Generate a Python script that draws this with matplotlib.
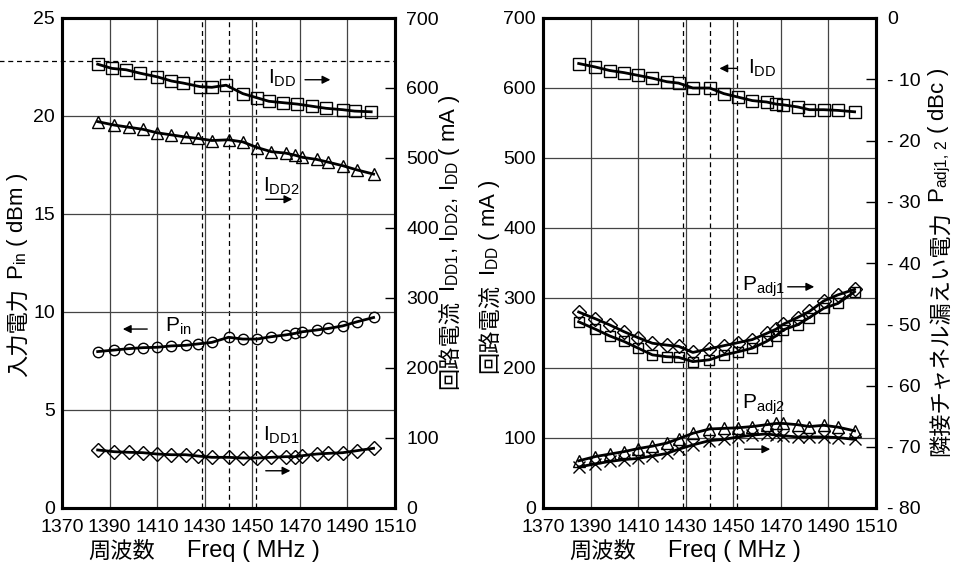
import matplotlib
matplotlib.use("Agg")
import matplotlib.pyplot as plt

plt.rcParams["font.family"] = ["Liberation Sans", "Noto Sans CJK JP"]
plt.rcParams["mathtext.fontset"] = "custom"
plt.rcParams["mathtext.rm"] = "Liberation Sans"
plt.rcParams["mathtext.it"] = "Liberation Sans"
plt.rcParams["font.size"] = 14

# ---------------- data ----------------
freq = [1385, 1392, 1398, 1404, 1410, 1416, 1422, 1427, 1433, 1440, 1446,
        1452, 1458, 1464, 1468, 1471, 1477, 1482, 1488, 1494, 1501]
freq_idd_left = [1385, 1391, 1397, 1403, 1410, 1416, 1421, 1428, 1433, 1439,
                 1446, 1452, 1457, 1463, 1469, 1475, 1481, 1488, 1493, 1500]

# left panel
idd_left = [634, 628, 626, 621, 616, 610, 607, 602, 601, 604,
            592, 586, 581, 579, 577, 574, 571, 569, 567, 566]          # mA
idd2 = [552, 547, 544, 541, 536, 533, 530, 528, 525, 526, 523,
        515, 509, 507, 504, 501, 498, 494, 489, 483, 477]               # mA
pin = [7.98, 8.06, 8.13, 8.18, 8.20, 8.27, 8.30, 8.37, 8.45, 8.71, 8.62,
       8.62, 8.74, 8.83, 8.91, 8.99, 9.08, 9.16, 9.29, 9.50, 9.72]      # dBm
idd1 = [82.9, 80.4, 79.6, 79.0, 77.1, 76.1, 76.1, 74.3, 72.4, 72.4, 71.4,
        71.4, 72.4, 73.3, 73.3, 74.7, 77.1, 78.1, 79.0, 81.9, 85.3]     # mA

# right panel
idd_right = [635, 630, 625, 622, 618, 614, 609, 607, 600, 600, 592,
             587, 582, 580, 577, 576, 573, 569, 569, 568, 566]          # mA
padj1_a = [-48.0, -49.1, -50.1, -51.2, -52.2, -53.1, -53.4, -53.6, -54.6, -54.0, -53.5,
           -53.0, -52.5, -51.5, -50.8, -50.0, -48.9, -47.9, -46.2, -45.2, -44.3]
padj1_b = [-49.6, -50.8, -51.9, -52.8, -53.9, -55.0, -55.3, -55.4, -56.1, -55.8, -55.0,
           -54.5, -53.9, -52.8, -51.9, -50.9, -50.1, -48.9, -47.4, -46.6, -44.7]
padj2_a = [-72.3, -71.6, -71.2, -70.8, -70.3, -69.9, -69.4, -68.7, -67.8, -67.1, -67.0,
           -66.9, -66.7, -66.4, -66.2, -66.2, -66.4, -66.7, -66.5, -66.8, -67.4]
padj2_b = [-73.3, -72.8, -72.4, -72.1, -71.9, -71.5, -71.1, -70.4, -69.7, -69.0, -68.8,
           -68.4, -68.1, -67.9, -68.1, -68.2, -68.4, -68.4, -68.4, -68.5, -68.8]

band_edges = [1429, 1440, 1451.5]
x_ticks = [1370, 1390, 1410, 1430, 1450, 1470, 1490, 1510]
dbc_ticks = [0, -10, -20, -30, -40, -50, -60, -70, -80]
dbc_labels = ["0"] + [f"- {abs(t)}" for t in dbc_ticks[1:]]

W, H = 958, 569
CJK = "Noto Sans CJK JP"
CJK_SIZE = 16
LAT_SIZE = 16

# ---------------- figure ----------------
fig = plt.figure(figsize=(W / 100, H / 100), dpi=100)
ax1 = fig.add_axes([62 / W, 61 / H, 333 / W, 490 / H])
ax2 = fig.add_axes([543 / W, 61 / H, 333 / W, 490 / H])
ax1r = ax1.twinx()
ax2r = ax2.twinx()

line_kw = dict(color="black", lw=2.0, markerfacecolor="none",
               markeredgecolor="black", markeredgewidth=1.0)
grid_kw = dict(color="#444444", lw=0.9)


def frame(ax, axr):
    ax.set_xlim(1370, 1510)
    ax.set_xticks(x_ticks)
    for x in x_ticks[1:-1]:
        ax.axvline(x, zorder=0, **grid_kw)
    for x in band_edges:
        ax.axvline(x, color="black", lw=0.9, ls=(0, (4, 3)), zorder=0)
    for side in ("left", "right", "top", "bottom"):
        ax.spines[side].set_linewidth(2.2)
        axr.spines[side].set_linewidth(2.2)
    ax.tick_params(axis="x", length=0, pad=8)
    ax.tick_params(axis="y", length=0, pad=5)
    axr.tick_params(axis="y", direction="in", length=7, width=1, pad=8)


def hlabel(x_split, y, cjk, latin, gap=32):
    """Horizontal axis title: Japanese part left of x_split, Latin part right."""
    fig.text((x_split - gap / 2) / W, 1 - y / H, cjk, ha="right", va="center",
             fontsize=CJK_SIZE, family=CJK)
    fig.text((x_split + gap / 2) / W, 1 - y / H, latin, ha="left", va="center",
             fontsize=LAT_SIZE + 1)


def vlabel(x, y_split, cjk, latin, gap=8):
    """Vertical axis title read bottom-to-top: Japanese below y_split, Latin above."""
    fig.text(x / W, 1 - (y_split + gap / 2) / H, cjk, rotation=90,
             rotation_mode="anchor", ha="right", va="center",
             fontsize=CJK_SIZE, family=CJK)
    fig.text(x / W, 1 - (y_split - gap / 2) / H, latin, rotation=90,
             rotation_mode="anchor", ha="left", va="center", fontsize=LAT_SIZE)


# ---- left panel ----
frame(ax1, ax1r)
ax1.set_ylim(0, 25)
ax1.set_yticks([0, 5, 10, 15, 20, 25])
for y in [5, 10, 15, 20]:
    ax1.axhline(y, zorder=0, **grid_kw)
ax1.axhline(22.8, xmin=-0.19, xmax=1.0, color="black", lw=0.9,
            ls=(0, (4, 3)), clip_on=False, zorder=0)
ax1r.set_ylim(0, 700)
ax1r.set_yticks(range(0, 701, 100))

ax1r.plot(freq_idd_left, idd_left, marker="s", ms=8, **line_kw)
ax1r.plot(freq, idd2, marker="^", ms=8.5, **line_kw)
ax1r.plot(freq, idd1, marker="D", ms=7.5, **line_kw)
ax1.plot(freq, pin, marker="o", ms=7.5, **line_kw)

arrow = dict(arrowstyle="-|>", color="black", lw=1.0, mutation_scale=12)
ax1.text(1456.6, 21.9, r"I$_{\mathrm{DD}}$", va="center", ha="left", fontsize=15)
ax1.annotate("", xy=(1484, 21.85), xytext=(1471, 21.85), arrowprops=arrow)
ax1.text(1454.5, 16.4, r"I$_{\mathrm{DD2}}$", va="center", ha="left", fontsize=15)
ax1.annotate("", xy=(1468, 15.75), xytext=(1454.5, 15.75), arrowprops=arrow)
ax1.text(1413.3, 9.25, r"P$_{\mathrm{in}}$", va="center", ha="left", fontsize=15)
ax1.annotate("", xy=(1394.4, 9.13), xytext=(1407, 9.13), arrowprops=arrow)
ax1.text(1454.5, 3.72, r"I$_{\mathrm{DD1}}$", va="center", ha="left", fontsize=15)
ax1.annotate("", xy=(1467.2, 1.9), xytext=(1454.5, 1.9), arrowprops=arrow)

# ---- right panel ----
frame(ax2, ax2r)
ax2.set_ylim(0, 700)
ax2.set_yticks(range(0, 701, 100))
for y in range(100, 700, 100):
    ax2.axhline(y, zorder=0, **grid_kw)
ax2r.set_ylim(-80, 0)
ax2r.set_yticks(dbc_ticks)
ax2r.set_yticklabels(dbc_labels)

ax2.plot(freq, idd_right, marker="s", ms=8, **line_kw)
ax2r.plot(freq, padj1_a, marker="D", ms=7.5, **line_kw)
ax2r.plot(freq, padj1_b, marker="s", ms=7.5, **line_kw)
ax2r.plot(freq, padj2_a, marker="^", ms=8.5, **line_kw)
ax2r.plot(freq, padj2_b, marker="x", ms=8, **line_kw)

ax2.annotate("", xy=(1443, 628), xytext=(1452.8, 628), arrowprops=arrow)
ax2.text(1456.2, 628, r"I$_{\mathrm{DD}}$", va="center", ha="left", fontsize=15)
ax2.text(1453.6, 316, r"P$_{\mathrm{adj1}}$", va="center", ha="left", fontsize=15)
ax2.annotate("", xy=(1485.2, 316), xytext=(1471.7, 316), arrowprops=arrow)
ax2.text(1453.6, 147, r"P$_{\mathrm{adj2}}$", va="center", ha="left", fontsize=15)
ax2.annotate("", xy=(1466.7, 84), xytext=(1453.6, 84), arrowprops=arrow)

# ---- axis titles ----
hlabel(171, 551, "周波数", "Freq ( MHz )")
hlabel(652, 551, "周波数", "Freq ( MHz )")
vlabel(18, 284, "入力電力", r"P$_{\mathrm{in}}$ ( dBm )")
vlabel(450, 296, "回路電流",
       r"I$_{\mathrm{DD1}}$, I$_{\mathrm{DD2}}$, I$_{\mathrm{DD}}$ ( mA )")
vlabel(490, 280, "回路電流", r"I$_{\mathrm{DD}}$ ( mA )")
vlabel(940, 207, "隣接チャネル漏えい電力", r"P$_{\mathrm{adj1,\,2}}$ ( dBc )")

fig.savefig("out.png", dpi=100)
